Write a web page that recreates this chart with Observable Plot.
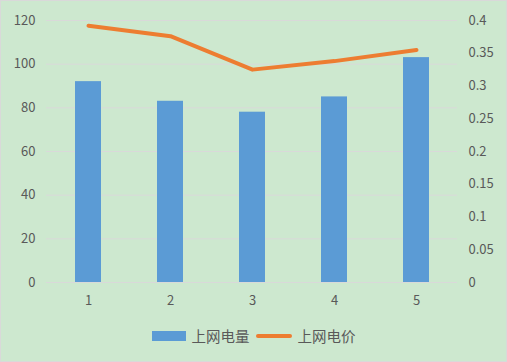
<!DOCTYPE html>
<html><head><meta charset="utf-8">
<script src="https://cdn.jsdelivr.net/npm/d3@7"></script>
<script src="https://cdn.jsdelivr.net/npm/@observablehq/plot@0.6"></script>
<style>
html,body{margin:0;padding:0;}
body{width:507px;height:362px;background:#cde8cf;box-sizing:border-box;border:1px solid #d9d9d9;overflow:hidden;font-family:"Noto Sans CJK SC","Noto Sans",sans-serif;}
#chart{position:absolute;left:0;top:0;}
#legend{position:absolute;left:0;top:325px;width:507px;display:flex;justify-content:center;align-items:center;font-size:14.5px;color:#595959;}
.sw{display:inline-block;margin-right:6px;}
.item{display:flex;align-items:center;margin:0 2px;}
</style></head>
<body>
<div id="chart"></div>
<div id="legend"></div>
<script>
const categories = ["1","2","3","4","5"];
const volume = [92, 83, 78, 85, 103];
const price = [0.392, 0.376, 0.325, 0.338, 0.355];
const leftTicks = [0,20,40,60,80,100,120];
const rightTicks = [0,0.05,0.1,0.15,0.2,0.25,0.3,0.35,0.4];
const seriesNames = ["上网电量","上网电价"];
const colors = ["#5b9bd5","#ed7d31"];

const k = 120/0.4;
const data = categories.map((c,i)=>({c, v: volume[i], p: price[i]}));

const chart = Plot.plot({
  width: 507, height: 318,
  marginLeft: 46, marginRight: 50, marginTop: 20, marginBottom: 36,
  style: {background: "transparent", fontFamily: '"Noto Sans CJK SC","Noto Sans",sans-serif', fontSize: "13px", color: "#595959"},
  x: {domain: categories, padding: 0, label: null},
  y: {domain: [0,120], label: null},
  marks: [
    Plot.ruleY(leftTicks, {stroke: "#d9d9d9", strokeWidth: 1}),
    Plot.axisY({ticks: leftTicks, tickSize: 0, tickPadding: 11, label: null, anchor: "left"}),
    Plot.axisY({ticks: rightTicks.map(t=>t*k), tickFormat: d => String(+(d/k).toFixed(2)), tickSize: 0, tickPadding: 11, label: null, anchor: "right", textAnchor: "start"}),
    Plot.axisX({tickSize: 0, tickPadding: 13, label: null}),
    Plot.barY(data, {x: "c", y: "v", fill: colors[0], insetLeft: 28, insetRight: 28}),
    Plot.lineY(data, {x: "c", y: d => d.p*k, stroke: colors[1], strokeWidth: 4, strokeLinecap: "round", strokeLinejoin: "round"})
  ]
});
document.getElementById("chart").appendChild(chart);

const lg = document.getElementById("legend");
lg.innerHTML = `<span class="item"><span class="sw" style="width:34px;height:10px;background:${colors[0]}"></span>${seriesNames[0]}</span>
<span class="item" style="margin-left:4px"><span class="sw" style="width:36px;height:4px;border-radius:2px;background:${colors[1]}"></span>${seriesNames[1]}</span>`;
</script>
</body></html>
